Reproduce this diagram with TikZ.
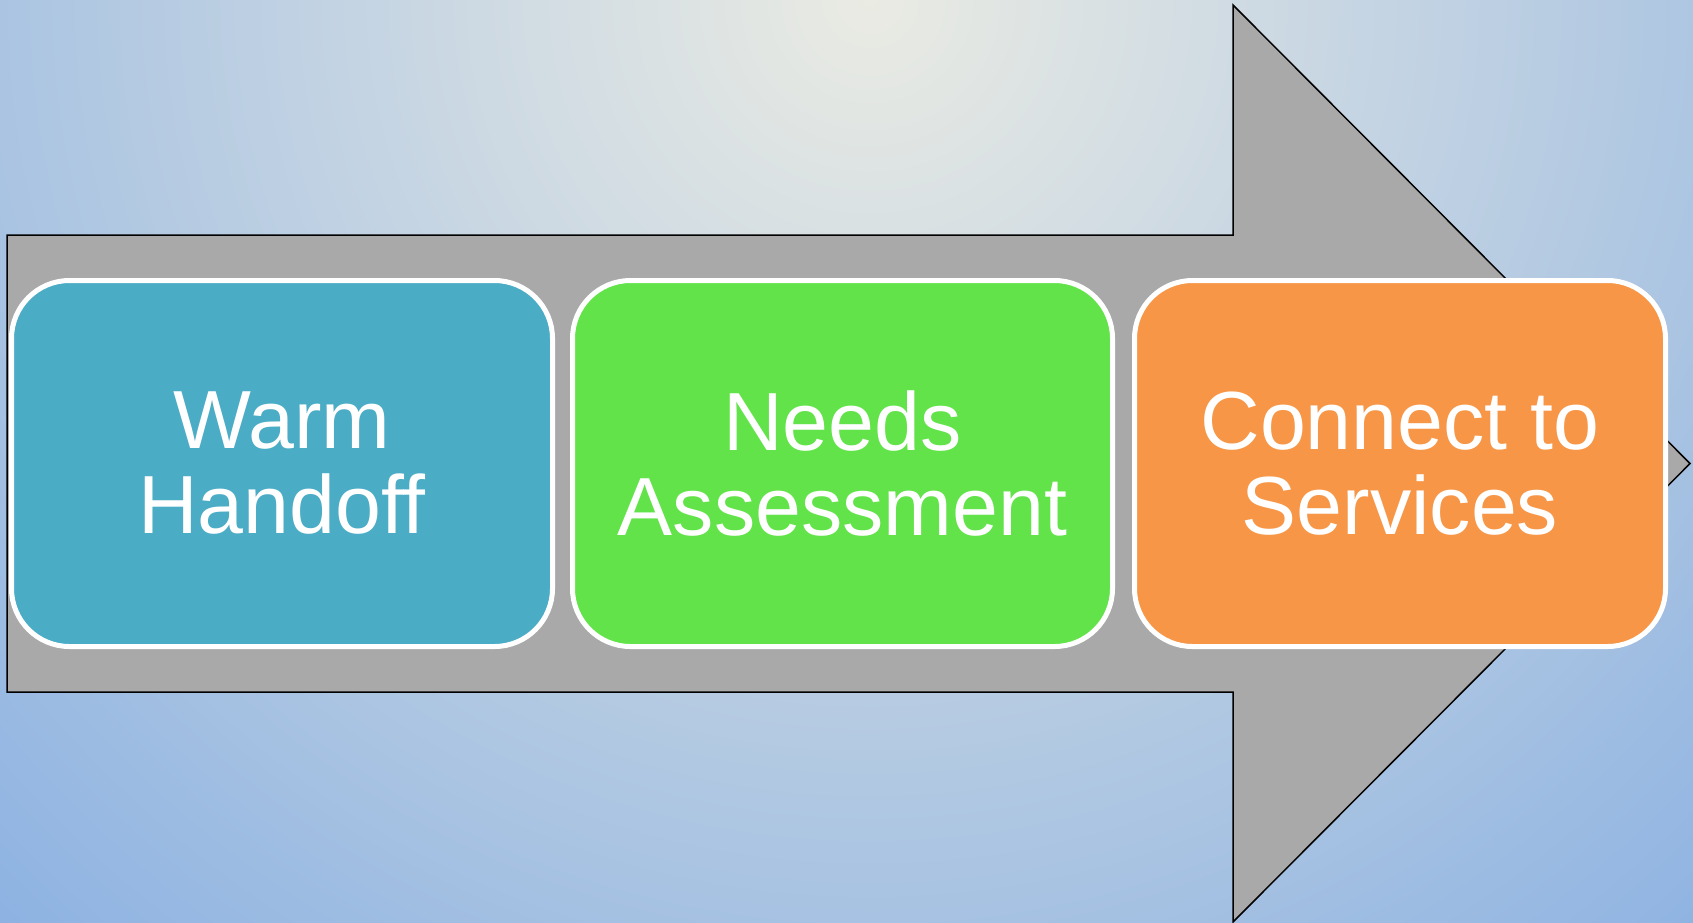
\documentclass[tikz,border=0pt]{standalone}
\usepackage{fontspec}
\setmainfont{Liberation Sans}
\definecolor{bginner}{RGB}{234,235,227}
\definecolor{bgouter}{RGB}{139,177,226}
\definecolor{arrowgray}{RGB}{169,169,169}
\definecolor{boxblue}{RGB}{75,172,198}
\definecolor{boxgreen}{RGB}{98,227,74}
\definecolor{boxorange}{RGB}{247,150,70}
\tikzset{
  stepbox/.style={draw=white, line width=5pt, rounded corners=58pt,
    minimum height=366pt, text=white, align=center, inner sep=0pt,
    font=\fontsize{82.5}{85}\selectfont},
  bigarrow/.style={draw=black, line width=1.5pt, fill=arrowgray, line join=miter}
}
\begin{document}
\begin{tikzpicture}[x=1pt,y=-1pt]
  \useasboundingbox (0,0) rectangle (1693,922);
  \begin{scope}
    \clip (0,0) rectangle (1693,922);
    \fill[bgouter] (0,0) rectangle (1693,922);
    \shade[inner color=bginner, outer color=bgouter] (870,0) circle (1300);
  \end{scope}
  \draw[bigarrow] (7,235) -- (1233,235) -- (1233,5) -- (1690,463.5)
    -- (1233,922) -- (1233,692) -- (7,692) -- cycle;
  \node[stepbox, fill=boxblue, minimum width=541pt] (warm) at (282,463.5) {Warm\\Handoff};
  \node[stepbox, fill=boxgreen, minimum width=540pt] (needs) at (842.5,463.5) {Needs\\Assessment};
  \node[stepbox, fill=boxorange, minimum width=531pt] (connect) at (1400,463.5) {Connect to\\Services};
\end{tikzpicture}
\end{document}
